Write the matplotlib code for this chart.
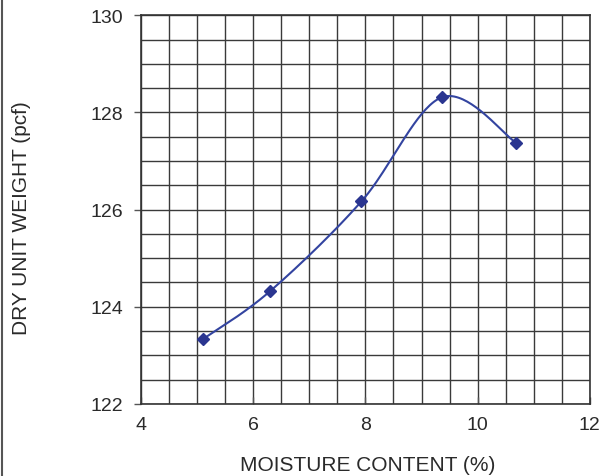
import numpy as np
import matplotlib
matplotlib.use('Agg')
from matplotlib import pyplot as plt
from matplotlib.lines import Line2D

moisture = [5.1, 6.3, 7.93, 9.36, 10.68]
dry_weight = [123.33, 124.32, 126.17, 128.31, 127.38]
x_ticks = [4, 6, 8, 10, 12]
y_ticks = [122, 124, 126, 128, 130]

plt.rcParams['font.family'] = ['Liberation Sans', 'DejaVu Sans']

def smooth(xs, ys, n=40):
    # catmull-rom through the points, like a spreadsheet "smoothed line"
    px = [xs[0]] + list(xs) + [xs[-1]]
    py = [ys[0]] + list(ys) + [ys[-1]]
    ox, oy = [], []
    for i in range(1, len(px) - 2):
        t = np.linspace(0, 1, n)
        for p, o in ((px, ox), (py, oy)):
            p0, p1, p2, p3 = p[i-1], p[i], p[i+1], p[i+2]
            o.extend(0.5 * ((2*p1) + (-p0 + p2)*t + (2*p0 - 5*p1 + 4*p2 - p3)*t**2
                            + (-p0 + 3*p1 - 3*p2 + p3)*t**3))
    return ox, oy

fig = plt.figure(figsize=(6, 4.77), dpi=100)
ax = fig.add_axes([0.235, 0.151, 0.748, 0.815])

ax.set_xlim(4, 12)
ax.set_ylim(122, 130)
ax.set_xticks(x_ticks)
ax.set_yticks(y_ticks)
ax.set_xticks(np.arange(4, 12.01, 0.5), minor=True)
ax.set_yticks(np.arange(122, 130.01, 0.5), minor=True)
ax.grid(which='both', color='#3a3a3a', linewidth=1.0)
ax.tick_params(which='minor', length=0)
ax.tick_params(which='major', length=5, width=1, color='#555', labelsize=14, labelcolor='#2a2a2a')
ax.tick_params(axis='x', direction='in', pad=9)
ax.tick_params(axis='y', pad=8)
for s in ax.spines.values():
    s.set_color('#333')
    s.set_linewidth(1.2)

sx, sy = smooth(moisture, dry_weight)
ax.plot(sx, sy, color='#3344a0', linewidth=1.5, zorder=3)
ax.plot(moisture, dry_weight, 'D', color='#2a3590', markersize=6, zorder=4)

ax.set_xlabel('MOISTURE CONTENT (%)', fontsize=15, color='#2a2a2a')
ax.set_ylabel('DRY UNIT WEIGHT (pcf)', fontsize=15, color='#2a2a2a')
ax.xaxis.set_label_coords(0.506, -0.132)
ax.yaxis.set_label_coords(-0.245, 0.48)

# scanned page edge on the left
fig.add_artist(Line2D([0.003, 0.003], [0, 1], color='#555', linewidth=1.5, transform=fig.transFigure))

fig.savefig('out.png', dpi=100)
